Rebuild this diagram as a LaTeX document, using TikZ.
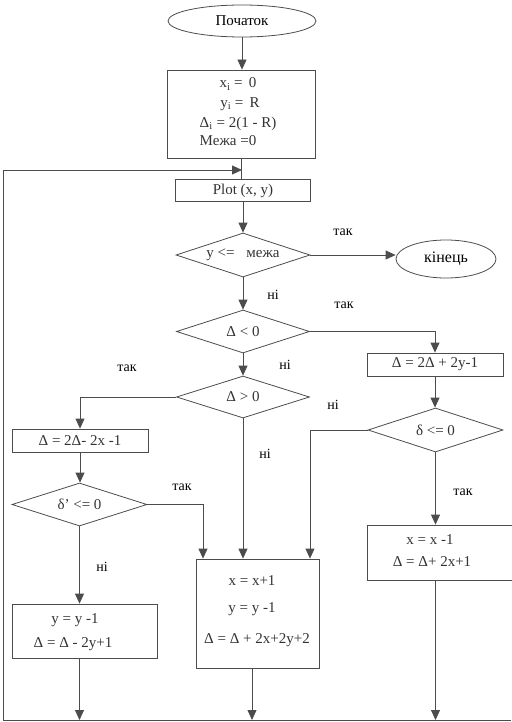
\documentclass[tikz,border=0pt]{standalone}
\usepackage{fontspec}
\setmainfont{Liberation Serif}
\usetikzlibrary{shapes.geometric,arrows.meta}

\begin{document}
\begin{tikzpicture}[x=1pt,y=-1pt,
    font=\fontsize{15}{17}\selectfont,
    lin/.style={draw=black!70, line width=0.8pt},
    arr/.style={lin, -{Triangle[length=10pt,width=9pt]}},
    blok/.style={lin, rectangle, inner sep=0pt},
    umova/.style={lin, diamond, aspect=3, inner sep=0pt, text=black!80},
    term/.style={lin, ellipse, inner sep=0pt},
    txt/.style={text=black!80, align=center, inner sep=0pt},
    mitka/.style={inner sep=0pt, font=\fontsize{14}{16}\selectfont}]
    \useasboundingbox (0,0) rectangle (511,722);
    %Terminals
    \node[term, minimum width=148, minimum height=32] (start) at (242,21) {Початок};
    \node[term, minimum width=100, minimum height=38, font=\fontsize{16}{18}\selectfont] (kinets) at (446,259) {кінець};
    %Boxes
    \node[blok, minimum width=148, minimum height=88] (init) at (241,114) {};
    \node[txt] (x0) at (238,84) {x\textsubscript{i} = \,0};
    \node[txt] (y0) at (240,104) {y\textsubscript{i} = \,R};
    \node[txt] (d0) at (238,124) {Δ\textsubscript{i} = 2(1 - R)};
    \node[txt] (meja) at (228,141) {Межа =0};
    \node[blok, minimum width=135, minimum height=22, txt] (plot) at (243,190.5) {Plot (x, y)};
    \node[blok, minimum width=136, minimum height=23, txt] (b1) at (435,364.5) {Δ = 2Δ + 2y-1};
    \node[blok, minimum width=136, minimum height=23, txt] (b2) at (80,440.5) {Δ = 2Δ- 2x -1};
    \node[blok, minimum width=123, minimum height=109] (big) at (257.5,613.5) {};
    \node[txt] (big1) at (252,581) {x = x+1};
    \node[txt] (big2) at (252,609) {y = y -1};
    \node[txt] (big3) at (257,640) {Δ = Δ + 2x+2y+2};
    \node[blok, minimum width=153, minimum height=55] (xbox) at (443.5,552.5) {};
    \node[txt] (xb1) at (430,540) {x = x -1};
    \node[txt] (xb2) at (432,562) {Δ = Δ+ 2x+1};
    \node[blok, minimum width=145, minimum height=54] (yb) at (84.5,631) {};
    \node[txt] (yb1) at (75,620) {y = y -1};
    \node[txt] (yb2) at (73,644) {Δ = Δ - 2y+1};
    %Decisions
    \node[umova, minimum width=134, minimum height=44] (d1) at (243,255) {y <=\hspace{8pt} межа\hspace{12pt}};
    \node[umova, minimum width=133, minimum height=43] (d2) at (243,331.5) {Δ < 0};
    \node[umova, minimum width=133, minimum height=42] (d3) at (243,397) {Δ > 0};
    \node[umova, minimum width=135, minimum height=43] (d4) at (79.5,504.5) {δ' <= 0};
    \node[umova, minimum width=135, minimum height=44] (d5) at (435.5,430) {δ <= 0};
    %Labels
    \node[mitka] (tak1) at (343,232) {так};
    \node[mitka] (ni1) at (273,295) {ні};
    \node[mitka] (tak2) at (344,305) {так};
    \node[mitka] (ni2) at (285,365) {ні};
    \node[mitka] (tak3) at (127,368) {так};
    \node[mitka] (ni3) at (265,454) {ні};
    \node[mitka] (ni5) at (333,405) {ні};
    \node[mitka] (tak4) at (182,487) {так};
    \node[mitka] (ni4) at (102,567) {ні};
    \node[mitka] (tak5) at (463,492) {так};
    %Connectors
    \coordinate (nizL) at (3,720);
    \coordinate (nizR) at (511,720);
    \coordinate (zlyv) at (242,170);
    \draw[arr] (start.south) -- (start.south |- init.north);
    \draw[lin] (init.south) -- (init.south |- plot.north);
    \draw[arr] (nizR) -- (nizL) |- (zlyv);
    \draw[arr] (plot.south) -- (d1.north);
    \draw[arr] (d1.east) -- (kinets.west |- d1.east);
    \draw[arr] (d1.south) -- (d2.north);
    \draw[arr] (d2.east) -| (b1.north);
    \draw[arr] (d2.south) -- (d3.north);
    \draw[arr] (b1.south) -- (b1.south |- d5.north);
    \draw[arr] (d5.west) -| ([xshift=52.5pt]big.north);
    \draw[arr] (d5.south) -- (d5.south |- xbox.north);
    \draw[arr] (d3.west) -| (b2.north);
    \draw[arr] (d3.south) -- (d3.south |- big.north);
    \draw[arr] (b2.south) -- (b2.south |- d4.north);
    \draw[arr] (d4.east) -| ([xshift=-54.5pt]big.north);
    \draw[arr] (d4.south) -- (d4.south |- yb.north);
    \draw[arr] (d4.south |- yb.south) -- (d4.south |- nizL);
    \draw[arr] ([xshift=-5.5pt]big.south) -- ([xshift=-5.5pt]big.south |- nizL);
    \draw[arr] (d5.south |- xbox.south) -- (d5.south |- nizL);
\end{tikzpicture}
\end{document}
